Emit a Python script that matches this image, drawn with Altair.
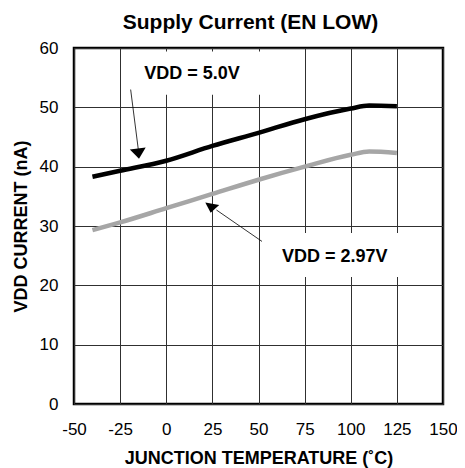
import altair as alt
import pandas as pd

# Junction temperature (°C)
temps = [-40, -25, 0, 25, 50, 75, 100, 110, 125]
# Supply current (nA)
i_vdd_5v0 = [38.3, 39.3, 41.0, 43.5, 45.7, 48.0, 49.8, 50.3, 50.2]
i_vdd_2v97 = [29.3, 30.6, 33.0, 35.4, 37.8, 40.0, 42.0, 42.55, 42.3]

series_names = ["VDD = 5.0V", "VDD = 2.97V"]
series_colors = ["#000000", "#a6a6a6"]

x_ticks = [-50, -25, 0, 25, 50, 75, 100, 125, 150]
y_ticks = [0, 10, 20, 30, 40, 50, 60]

# annotation labels (data units)
label_text = ["VDD = 5.0V", "VDD = 2.97V"]
label_x = [14, 91.3]
label_y = [55.6, 24.8]
# white label boxes (data units)
box_x = [-21, 55]
box_x2 = [51, 129]
box_y = [52.1, 21.4]
box_y2 = [59.4, 28.8]
# arrow leader lines (data units)
arrow_x = [-19.3, 51.9]
arrow_y = [53.0, 27.4]
arrow_x2 = [-15.1, 27.2]
arrow_y2 = [42.8, 32.7]
# arrow heads
head_x = [-15.1, 24.5]
head_y = [42.2, 33.0]
head_angle = [353, 10]
head_size = [256, 200]

rows = []
for name, vals in zip(series_names, [i_vdd_5v0, i_vdd_2v97]):
    for t, v in zip(temps, vals):
        rows.append({"temp": t, "current": v, "series": name})
df = pd.DataFrame(rows)

ann = pd.DataFrame({
    "text": label_text, "lx": label_x, "ly": label_y,
    "bx": box_x, "bx2": box_x2, "by": box_y, "by2": box_y2,
    "ax": arrow_x, "ay": arrow_y, "ax2": arrow_x2, "ay2": arrow_y2,
    "hx": head_x, "hy": head_y, "hang": head_angle, "hsize": head_size,
})

xscale = alt.Scale(domain=[-50, 150], nice=False, zero=False)
yscale = alt.Scale(domain=[0, 60], nice=False)

xaxis = alt.Axis(
    values=x_ticks, grid=True, gridColor="#303030", gridWidth=1, gridOpacity=1,
    domain=False, ticks=False, labelFontSize=17, labelPadding=17, labelColor="#000",
    labelExpr="'' + datum.value", labelFlush=False, labelOverlap=False, labelBound=False,
    title="JUNCTION TEMPERATURE (˚C)", titleFontSize=18, titleFontWeight="bold",
    titleColor="#000", titleY=54, titleBaseline="middle",
)
yaxis = alt.Axis(
    values=y_ticks, grid=True, gridColor="#303030", gridWidth=1, gridOpacity=1,
    domain=False, ticks=False, labelFontSize=17, labelPadding=16, labelColor="#000",
    labelExpr="'' + datum.value", labelFlush=False, labelOverlap=False, labelBound=False,
    title="VDD CURRENT (nA)", titleFontSize=18, titleFontWeight="bold",
    titleColor="#000", titleX=-53, titleY=178, titleAngle=270, titleBaseline="middle",
    titleAlign="center",
)

lines = alt.Chart(df).mark_line(strokeWidth=4.5, interpolate="monotone").encode(
    x=alt.X("temp:Q", scale=xscale, axis=xaxis),
    y=alt.Y("current:Q", scale=yscale, axis=yaxis),
    color=alt.Color("series:N", scale=alt.Scale(domain=series_names, range=series_colors), legend=None),
)

boxes = alt.Chart(ann).mark_rect(color="white").encode(
    x=alt.X("bx:Q", scale=xscale), x2="bx2:Q",
    y=alt.Y("by:Q", scale=yscale), y2="by2:Q",
)

leaders = alt.Chart(ann).mark_rule(color="#000", strokeWidth=0.8).encode(
    x=alt.X("ax:Q", scale=xscale), x2="ax2:Q",
    y=alt.Y("ay:Q", scale=yscale), y2="ay2:Q",
)

heads = alt.Chart(ann).mark_point(
    shape="M-1,-0.65L1,-0.65L0,0.65Z", filled=True, color="#000", opacity=1,
).encode(
    x=alt.X("hx:Q", scale=xscale), y=alt.Y("hy:Q", scale=yscale),
    angle=alt.Angle("hang:Q", scale=None),
    size=alt.Size("hsize:Q", scale=None, legend=None),
)

labels = alt.Chart(ann).mark_text(
    fontSize=18, fontWeight="bold", color="#000", align="center", baseline="middle",
).encode(
    x=alt.X("lx:Q", scale=xscale), y=alt.Y("ly:Q", scale=yscale), text="text:N",
)

chart = alt.layer(boxes, lines, leaders, heads, labels).properties(
    width=369, height=356,
    title=alt.TitleParams("Supply Current (EN LOW)", fontSize=21, fontWeight="bold",
                          color="#000", anchor="middle", dx=-8, offset=6),
    autosize=alt.AutoSizeParams(type="none"),
    padding={"left": 66, "top": 40, "right": 14, "bottom": 64},
).configure(font="Liberation Sans").configure_view(stroke="#000", strokeWidth=2.5)

chart.save("out.html", embed_options={"renderer": "svg", "actions": False})
